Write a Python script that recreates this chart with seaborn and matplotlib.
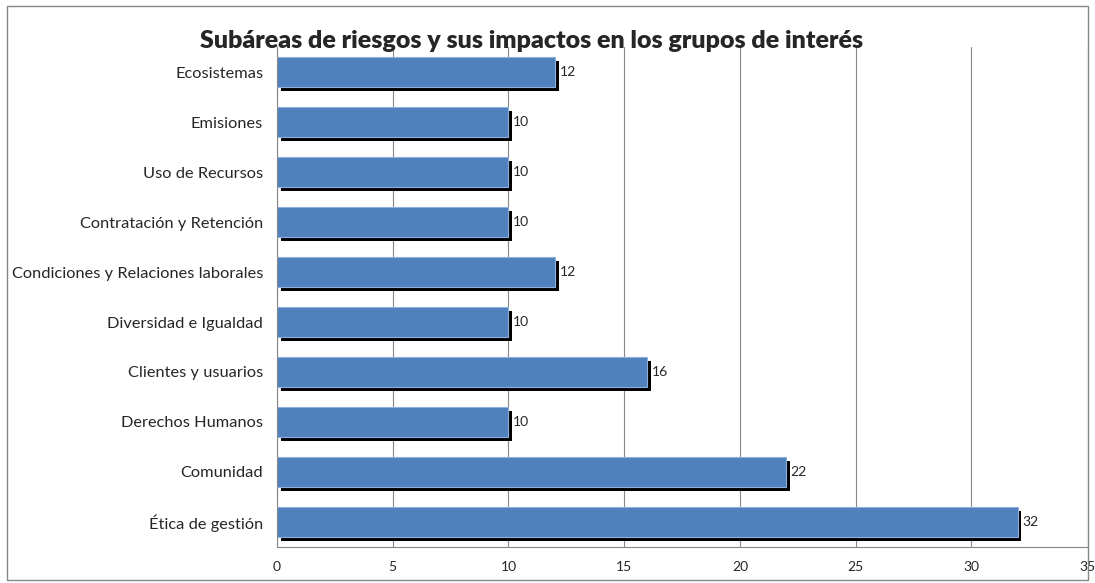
import matplotlib
matplotlib.use("Agg")
import matplotlib.pyplot as plt
import matplotlib.patheffects as pe
from matplotlib.patches import Rectangle
import pandas as pd
import seaborn as sns

categories = [
    "Ecosistemas",
    "Emisiones",
    "Uso de Recursos",
    "Contratación y Retención",
    "Condiciones y Relaciones laborales",
    "Diversidad e Igualdad",
    "Clientes y usuarios",
    "Derechos Humanos",
    "Comunidad",
    "Ética de gestión",
]
values = [12, 10, 10, 10, 12, 10, 16, 10, 22, 32]
x_ticks = [0, 5, 10, 15, 20, 25, 30, 35]

sns.set_style("white")
plt.rcParams["font.family"] = ["Lato", "DejaVu Sans"]

df = pd.DataFrame({"Subárea": categories, "Valor": values})

fig = plt.figure(figsize=(10.95, 5.83), dpi=100)
ax = fig.add_axes([0.253, 0.062, 0.7397, 0.857])

sns.barplot(data=df, x="Valor", y="Subárea", orient="h", color="#4F81BD",
            saturation=1, width=0.6, edgecolor="#8DB0DC", linewidth=0.8, ax=ax)

# black drop shadow like the original spreadsheet chart
shadow = [pe.SimplePatchShadow(offset=(2.8, -2.8), shadow_rgbFace="black", alpha=1.0),
          pe.Normal()]
for bar in ax.patches:
    bar.set_path_effects(shadow)

for i, v in enumerate(values):
    ax.text(v + 0.2, i, str(v), va="center", ha="left", fontsize=10)

ax.set_xlim(0, 35)
ax.set_xticks(x_ticks)
ax.set_ylim(len(categories) - 0.5, -0.5)
ax.set_yticks(range(len(categories)))
ax.set_yticks([i - 0.5 for i in range(len(categories) + 1)], minor=True)
ax.tick_params(axis="y", which="major", length=0, pad=10, labelsize=11.8)
ax.tick_params(axis="y", which="minor", length=5, color="#868686", width=0.8)
ax.tick_params(axis="x", length=5, color="#868686", width=0.8, labelsize=10, pad=5)
ax.set_xlabel("")
ax.set_ylabel("")
ax.xaxis.grid(True, color="#868686", linewidth=0.8)
ax.set_axisbelow(True)
for side in ["top", "right"]:
    ax.spines[side].set_visible(False)
for side in ["left", "bottom"]:
    ax.spines[side].set_color("#868686")
    ax.spines[side].set_linewidth(0.8)

fig.text(0.485, 0.93, "Subáreas de riesgos y sus impactos en los grupos de interés",
         ha="center", va="center", fontsize=18, fontweight="heavy")

fig.patches.append(Rectangle((0.006, 0.006), 0.988, 0.984, transform=fig.transFigure,
                             fill=False, edgecolor="#868686", linewidth=1.0))

fig.savefig("out.png", dpi=100)
